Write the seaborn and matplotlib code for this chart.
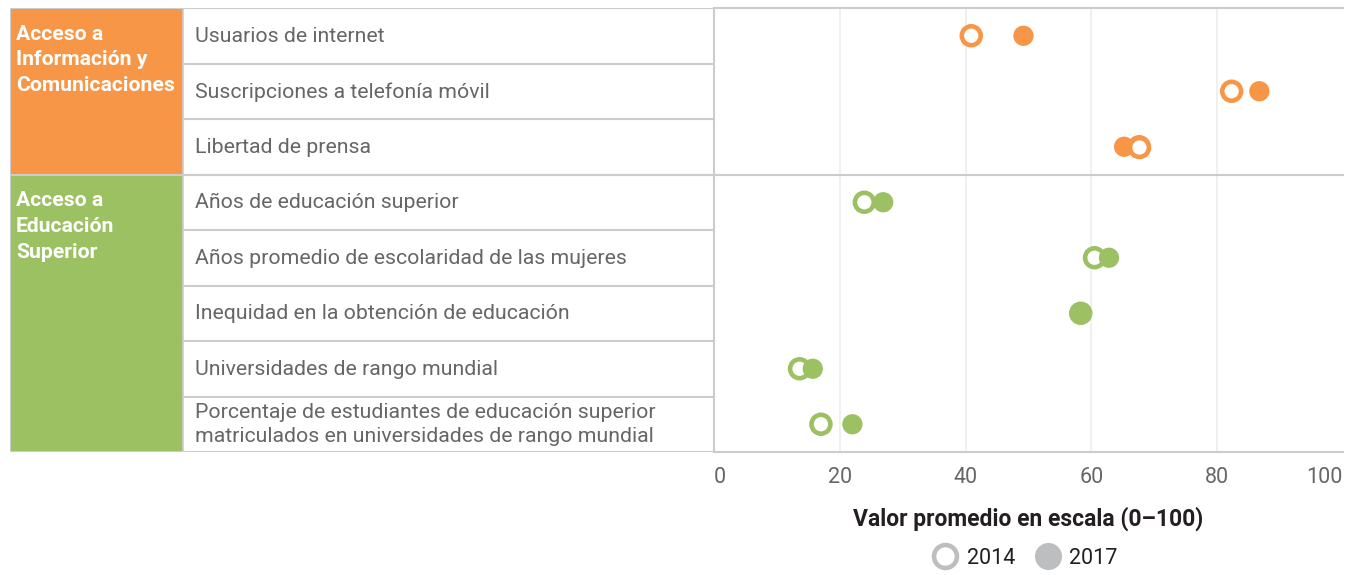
import numpy as np
import pandas as pd
import matplotlib
matplotlib.use("Agg")
import matplotlib.pyplot as plt
from matplotlib.lines import Line2D
from matplotlib.patches import Rectangle
import seaborn as sns

# ---------------- data ----------------
groups = ["Acceso a\nInformación y\nComunicaciones", "Acceso a\nEducación\nSuperior"]
group_sizes = [3, 5]
indicators = [
    "Usuarios de internet",
    "Suscripciones a telefonía móvil",
    "Libertad de prensa",
    "Años de educación superior",
    "Años promedio de escolaridad de las mujeres",
    "Inequidad en la obtención de educación",
    "Universidades de rango mundial",
    "Porcentaje de estudiantes de educación superior\nmatriculados en universidades de rango mundial",
]
values_2014 = [40.9, 82.3, 67.6, 23.9, 60.5, 58.3, 13.6, 17.0]
values_2017 = [49.2, 86.7, 65.2, 26.9, 62.8, 58.3, 15.7, 22.0]
years = ["2014", "2017"]
xticks = [0, 20, 40, 60, 80, 100]
xlabel = "Valor promedio en escala (0–100)"

group_colors = ["#F79646", "#9CC162"]
legend_gray = "#BCBEC0"
line_gray = "#CCCCCC"
grid_gray = "#EEEEEE"

# ---------------- build table ----------------
grp_col = []
for g, n in zip(groups, group_sizes):
    grp_col += [g] * n
df = pd.DataFrame({"indicator": indicators * 2,
                   "group": grp_col * 2,
                   "year": [years[0]] * len(indicators) + [years[1]] * len(indicators),
                   "value": values_2014 + values_2017})
palette = dict(zip(groups, group_colors))

plt.rcParams["font.family"] = ["Roboto", "DejaVu Sans"]

W, H = 1351, 575
fig = plt.figure(figsize=(W / 100, H / 100), dpi=100)
top_px, bot_px = 8, 452
x0_px, x1_px = 714, 1343
ax = fig.add_axes([x0_px / W, 1 - bot_px / H, (x1_px - x0_px) / W, (bot_px - top_px) / H])
tab = fig.add_axes([10 / W, 1 - bot_px / H, (x0_px - 10) / W, (bot_px - top_px) / H])

n = len(indicators)

# ---- dots ----
d14 = df[df.year == years[0]]
d17 = df[df.year == years[1]]
s_open, lw_open = 185, 3.3
s_fill = 213
sns.scatterplot(data=d14, x="value", y="indicator", hue="group", palette=palette,
                s=s_open, linewidth=lw_open, legend=False, ax=ax, zorder=3)
c = ax.collections[-1]
c.set_edgecolors(c.get_facecolors())
c.set_facecolors("white")
sns.scatterplot(data=d17, x="value", y="indicator", hue="group", palette=palette,
                s=s_fill, linewidth=0, legend=False, ax=ax, zorder=4)
# where the 2014 value is the rightmost, the ring sits on top
d14_top = d14[d14.value.values > d17.value.values]
if len(d14_top):
    sns.scatterplot(data=d14_top, x="value", y="indicator", hue="group", palette=palette,
                    s=s_open, linewidth=lw_open, legend=False, ax=ax, zorder=5)
    c = ax.collections[-1]
    c.set_edgecolors(c.get_facecolors())
    c.set_facecolors("white")

ax.set_xlim(0, 100)
ax.set_ylim(n - 0.5, -0.5)
ax.set_yticks([])
ax.set_ylabel("")
for sp in ax.spines.values():
    sp.set_visible(False)
ax.set_xticks(xticks)
ax.set_xticklabels([str(t) for t in xticks], fontsize=15.5, color="#666666")
labs = ax.get_xticklabels()
labs[0].set_ha("left")
labs[-1].set_ha("right")
ax.tick_params(axis="x", length=0, pad=11)
for t in xticks[1:-1]:
    ax.axvline(t, color=grid_gray, lw=1.2, zorder=0)
ax.set_xlabel(xlabel, fontsize=16.5, fontweight="bold", color="#231F20", labelpad=13)

# horizontal borders in plot area: top, group separators, bottom
bounds = np.cumsum([0] + group_sizes) - 0.5
for b in bounds:
    ax.axhline(b, color=line_gray, lw=1.5, zorder=1, clip_on=False)
ax.axvline(0, color=line_gray, lw=1.5, zorder=1)

# ---- left table ----
tab.set_xlim(10, x0_px)
tab.set_ylim(n - 0.5, -0.5)
tab.axis("off")
start = 0
for g, sz, col in zip(groups, group_sizes, group_colors):
    tab.add_patch(Rectangle((10, start - 0.5), 183 - 10, sz, facecolor=col,
                            edgecolor="none", zorder=1))
    tab.text(16, start - 0.5 + 0.30, g, color="white", fontsize=15.2, fontweight="bold",
             va="top", ha="left", linespacing=1.45, zorder=3)
    start += sz
for i, lab in enumerate(indicators):
    tab.text(195, i + 0.01, lab, color="#666666", fontsize=15.3, va="center", ha="left",
             linespacing=1.35, zorder=3)
# row separators inside label column
for i in range(1, n):
    tab.plot([183, x0_px], [i - 0.5, i - 0.5], color=line_gray, lw=1.5, zorder=2)
for b in bounds:
    tab.plot([10, x0_px], [b, b], color=line_gray, lw=1.5, zorder=2)
tab.plot([10, 10], [-0.5, n - 0.5], color=line_gray, lw=1.5, zorder=2)
tab.plot([183, 183], [-0.5, n - 0.5], color=line_gray, lw=1.2, zorder=2)
tab.plot([x0_px, x0_px], [-0.5, n - 0.5], color=line_gray, lw=1.5, zorder=2)

# ---- legend ----
handles = [
    Line2D([], [], ls="none", marker="o", markersize=16.5, markerfacecolor="white",
           markeredgecolor=legend_gray, markeredgewidth=3.3),
    Line2D([], [], ls="none", marker="o", markersize=19.5, markerfacecolor=legend_gray,
           markeredgecolor="none"),
]
fig.legend(handles, years, loc="center", bbox_to_anchor=(1025 / W, 1 - 558 / H),
           ncol=2, frameon=False, fontsize=15.5, handletextpad=0.4, columnspacing=0.9,
           handlelength=1.2, labelcolor="#231F20")

fig.savefig("out.png", dpi=100)
